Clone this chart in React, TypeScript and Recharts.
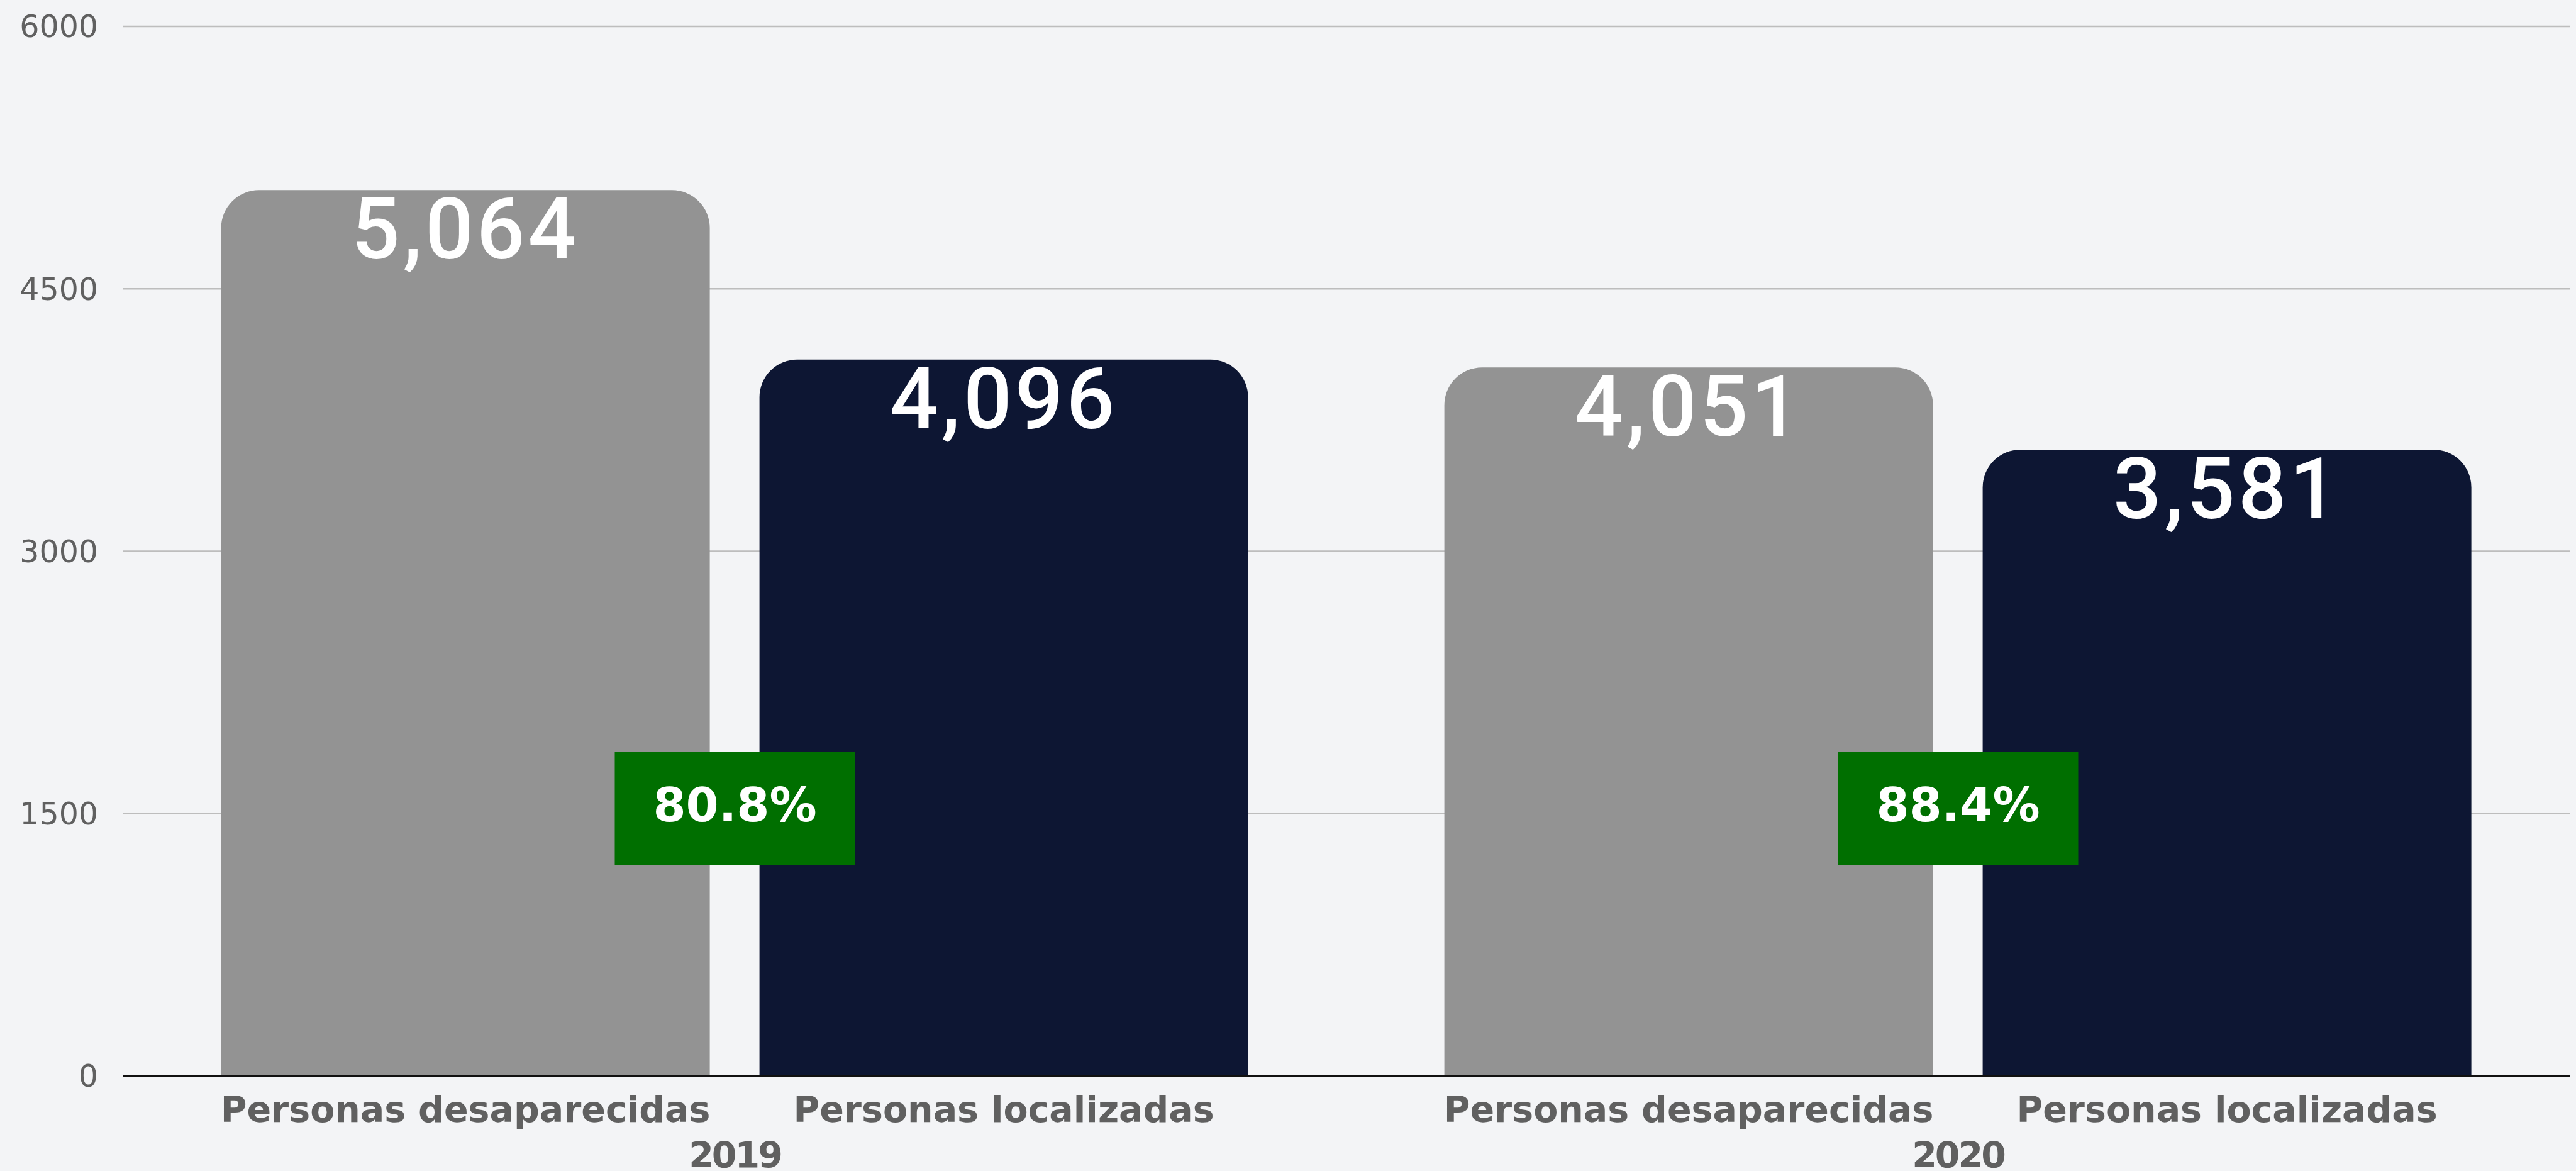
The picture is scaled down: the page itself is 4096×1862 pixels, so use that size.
import React from 'react';
import { BarChart, Bar, XAxis, YAxis, CartesianGrid, LabelList, ReferenceDot } from 'recharts';

const YEARS = ['2019', '2020'];
const DESAPARECIDAS = [5064, 4051];
const LOCALIZADAS = [4096, 3581];
const PERCENT_LABELS = ['80.8%', '88.4%'];
const SERIES_NAMES = ['Personas desaparecidas', 'Personas localizadas'];
const Y_TICKS = [0, 1500, 3000, 4500, 6000];
const BOX_ANCHOR_VALUE = 1530;

const data = YEARS.map((year, i) => ({
  year,
  desaparecidas: DESAPARECIDAS[i],
  localizadas: LOCALIZADAS[i],
}));

const W = 4096;
const H = 1862;
const BG = '#f3f4f6';
const GREY = '#939393';
const NAVY = '#0d1633';
const GREEN = '#006f00';
const TEXT_GREY = '#606060';
const FONT = '"DejaVu Sans", sans-serif';

const valueLabel = (props: any) => {
  const { x, y, width, value } = props;
  return (
    <text
      x={x + width / 2}
      y={y + 109}
      textAnchor="middle"
      fill="#ffffff"
      fontFamily="Roboto, sans-serif"
      fontWeight={500}
      fontSize={135}
      letterSpacing={5}
    >
      {Number(value).toLocaleString('en-US')}
    </text>
  );
};

const nameLabel = (name: string) => (props: any) => {
  const { x, y, width, height } = props;
  return (
    <text
      x={x + width / 2}
      y={y + height + 73}
      textAnchor="middle"
      fill={TEXT_GREY}
      fontFamily={FONT}
      fontWeight={700}
      fontSize={57}
    >
      {name}
    </text>
  );
};

const YearTick = (props: any) => {
  const { x, y, payload } = props;
  return (
    <text
      x={x}
      y={y + 138}
      textAnchor="middle"
      fill={TEXT_GREY}
      fontFamily={FONT}
      fontWeight={700}
      fontSize={57}
      letterSpacing={-3}
    >
      {payload.value}
    </text>
  );
};

const pctBox = (label: string) => (props: any) => {
  const { cx, cy } = props;
  return (
    <g>
      <rect x={cx - 191} y={cy - 90} width={382} height={180} fill={GREEN} />
      <text
        x={cx}
        y={cy + 21}
        textAnchor="middle"
        fill="#ffffff"
        fontFamily={FONT}
        fontWeight={700}
        fontSize={75}
      >
        {label}
      </text>
    </g>
  );
};

export default function App() {
  return (
    <div style={{ position: 'absolute', left: 0, top: 0, width: W, height: H, background: BG }}>
      <BarChart
        width={W}
        height={H}
        data={data}
        margin={{ top: 42, right: 10, bottom: 0, left: 0 }}
        barCategoryGap="8%"
        barGap={79}
      >
        <CartesianGrid vertical={false} stroke="#bdbdbd" strokeWidth={2.5} />
        <YAxis
          type="number"
          domain={[0, 6000]}
          ticks={Y_TICKS}
          width={196}
          axisLine={false}
          tickLine={false}
          tickMargin={34}
          tick={{ fill: TEXT_GREY, fontFamily: FONT, fontSize: 49 }}
        />
        <XAxis
          dataKey="year"
          height={151}
          axisLine={{ stroke: '#111111', strokeWidth: 3 }}
          tickLine={false}
          tick={<YearTick />}
          interval={0}
        />
        <Bar dataKey="desaparecidas" fill={GREY} radius={[60, 60, 0, 0]} isAnimationActive={false}>
          <LabelList dataKey="desaparecidas" content={valueLabel} />
          <LabelList dataKey="desaparecidas" content={nameLabel(SERIES_NAMES[0])} />
        </Bar>
        <Bar dataKey="localizadas" fill={NAVY} radius={[60, 60, 0, 0]} isAnimationActive={false}>
          <LabelList dataKey="localizadas" content={valueLabel} />
          <LabelList dataKey="localizadas" content={nameLabel(SERIES_NAMES[1])} />
        </Bar>
        {YEARS.map((year, i) => (
          <ReferenceDot
            key={year}
            x={year}
            y={BOX_ANCHOR_VALUE}
            ifOverflow="visible"
            shape={pctBox(PERCENT_LABELS[i])}
          />
        ))}
      </BarChart>
    </div>
  );
}
